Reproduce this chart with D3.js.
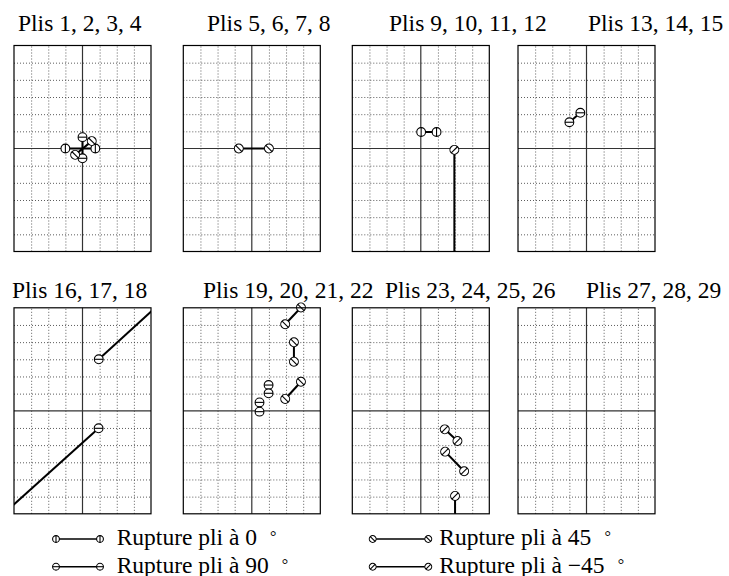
<!DOCTYPE html>
<html>
<head>
<meta charset="utf-8">
<script src="https://cdn.jsdelivr.net/npm/d3@7/dist/d3.min.js"></script>
<style>
	body { margin: 0; background: #fff; }
</style>
</head>
<body>
<svg id="chart" width="729" height="576"></svg>
<script>
// === Data ===
const panelTitles = [
	'Plis 1, 2, 3, 4', 'Plis 5, 6, 7, 8', 'Plis 9, 10, 11, 12', 'Plis 13, 14, 15',
	'Plis 16, 17, 18', 'Plis 19, 20, 21, 22', 'Plis 23, 24, 25, 26', 'Plis 27, 28, 29'
];
const titleLeft = [18, 207, 389, 588, 12, 203, 385, 586];

// rupture segments : [ply angle, x1, y1, x2, y2] (grid units, ends outside the frame carry no marker)
const plis1to4 = [[0, -1.0, 0, 0.75, 0], [90, 0, 0.66, 0, -0.57], [45, 0.54, 0.43, -0.43, -0.37]];
const plis5to8 = [[45, -0.76, 0, 1.0, 0]];
const plis9to12 = [[0, 0.02, 0.96, 0.92, 0.96], [-45, 1.96, -0.08, 1.96, -8]];
const plis13to15 = [[90, -0.36, 2.08, -1.0, 1.53]];
const plis16to18 = [[90, 0.95, 3.0, 5, 6.68], [90, 0.94, -1.02, -5, -6.35]];
const plis19to22 = [
	[45, 2.87, 6.02, 1.95, 5.04], [45, 2.46, 3.99, 2.46, 2.86], [45, 2.87, 1.69, 1.95, 0.69],
	[90, 0.98, 1.5, 0.98, 1.02], [90, 0.45, 0.49, 0.45, -0.05]
];
const plis23to26 = [[-45, 1.4, -1.08, 2.14, -1.76], [-45, 1.42, -2.38, 2.53, -3.52], [-45, 2.0, -4.96, 2.0, -8]];
const plis27to29 = [];

const panelData = [plis1to4, plis5to8, plis9to12, plis13to15, plis16to18, plis19to22, plis23to26, plis27to29];

const xTicks = d3.range(-4, 5, 1);
const yTicks = d3.range(-6, 7, 1);

const legendAngles = [0, 45, 90, -45];
const legendLabels = ['Rupture pli à 0', 'Rupture pli à 45', 'Rupture pli à 90', 'Rupture pli à −45'];

// === Layout ===
const svg = d3.select('#chart');
const colLeft = [14, 183.3, 352.3, 518];
const rowTop = [45.5, 307.8];
const titleBase = [31, 297.5];
const W = 137, H = 206;
const R = 4.4;
const FONT = "'Liberation Serif', 'DejaVu Serif', serif";

const x = d3.scaleLinear().domain([-4, 4]).range([0, W]);
const y = d3.scaleLinear().domain([-6, 6]).range([H, 0]);

function drawMarker(g, px, py, angle, r) {
	const m = g.append('g').attr('transform', `translate(${px},${py}) rotate(${-(angle + 90)})`);
	m.append('circle').attr('r', r).attr('fill', '#fff').attr('stroke', '#000').attr('stroke-width', 1.1);
	m.append('line').attr('x1', -r).attr('x2', r).attr('stroke', '#000').attr('stroke-width', 1.1);
}

panelData.forEach((segs, i) => {
	const row = Math.floor(i / 4), col = i % 4;
	const g = svg.append('g').attr('transform', `translate(${colLeft[col]},${rowTop[row]})`);

	svg.append('text')
		.attr('x', titleLeft[i])
		.attr('y', titleBase[row])
		.attr('font-family', FONT)
		.attr('font-size', 23.5)
		.text(panelTitles[i]);

	// dotted grid
	g.append('g').attr('class', 'grid-x')
		.attr('transform', `translate(0,${H})`)
		.call(d3.axisBottom(x).tickValues(xTicks.filter(d => d !== 0 && Math.abs(d) < 4)).tickSize(-H).tickFormat(''))
		.call(a => a.select('.domain').remove());
	g.append('g').attr('class', 'grid-y')
		.call(d3.axisLeft(y).tickValues(yTicks.filter(d => d !== 0 && Math.abs(d) < 6)).tickSize(-W).tickFormat(''))
		.call(a => a.select('.domain').remove());
	g.selectAll('.grid-x line, .grid-y line')
		.attr('stroke', '#333').attr('stroke-width', 0.8).attr('stroke-dasharray', '1,2');

	// axes through origin
	g.append('line').attr('x1', 0).attr('x2', W).attr('y1', y(0)).attr('y2', y(0))
		.attr('stroke', '#333').attr('stroke-width', 1.2);
	g.append('line').attr('x1', x(0)).attr('x2', x(0)).attr('y1', 0).attr('y2', H)
		.attr('stroke', '#333').attr('stroke-width', 1.2);

	// clipped rupture segments
	const clipId = `clip-${i}`;
	g.append('clipPath').attr('id', clipId).append('rect').attr('width', W).attr('height', H);
	const marks = g.append('g').attr('clip-path', `url(#${clipId})`);
	marks.selectAll('line.seg').data(segs).join('line')
		.attr('class', 'seg')
		.attr('x1', d => x(d[1])).attr('y1', d => y(d[2]))
		.attr('x2', d => x(d[3])).attr('y2', d => y(d[4]))
		.attr('stroke', '#000').attr('stroke-width', 2);

	const inside = (px, py) => px >= -4 && px <= 4 && py >= -6 && py <= 6.2;
	segs.forEach(d => {
		if (inside(d[1], d[2])) drawMarker(g, x(d[1]), y(d[2]), d[0], R);
		if (inside(d[3], d[4])) drawMarker(g, x(d[3]), y(d[4]), d[0], R);
	});

	// frame
	g.append('rect').attr('width', W).attr('height', H)
		.attr('fill', 'none').attr('stroke', '#000').attr('stroke-width', 1.2);
});

// === Legend ===
const legCol = [{x0: 56, x1: 100, tx: 116.7}, {x0: 372.7, x1: 428.3, tx: 439.3}];
const legRow = [{cy: 539, base: 545}, {cy: 566.7, base: 572.5}];
legendAngles.forEach((a, i) => {
	const c = legCol[i % 2], r = legRow[Math.floor(i / 2)];
	const lg = svg.append('g').attr('class', 'legend');
	lg.append('line').attr('x1', c.x0).attr('x2', c.x1).attr('y1', r.cy).attr('y2', r.cy)
		.attr('stroke', '#000').attr('stroke-width', 1.5);
	drawMarker(lg, c.x0, r.cy, a, 3.4);
	drawMarker(lg, c.x1, r.cy, a, 3.4);
	const t = lg.append('text').attr('x', c.tx).attr('y', r.base)
		.attr('font-family', FONT).attr('font-size', 23.5).text(legendLabels[i]);
	t.append('tspan').attr('dx', 13).attr('font-size', 16).attr('dy', -3).text('°');
});
</script>
</body>
</html>
